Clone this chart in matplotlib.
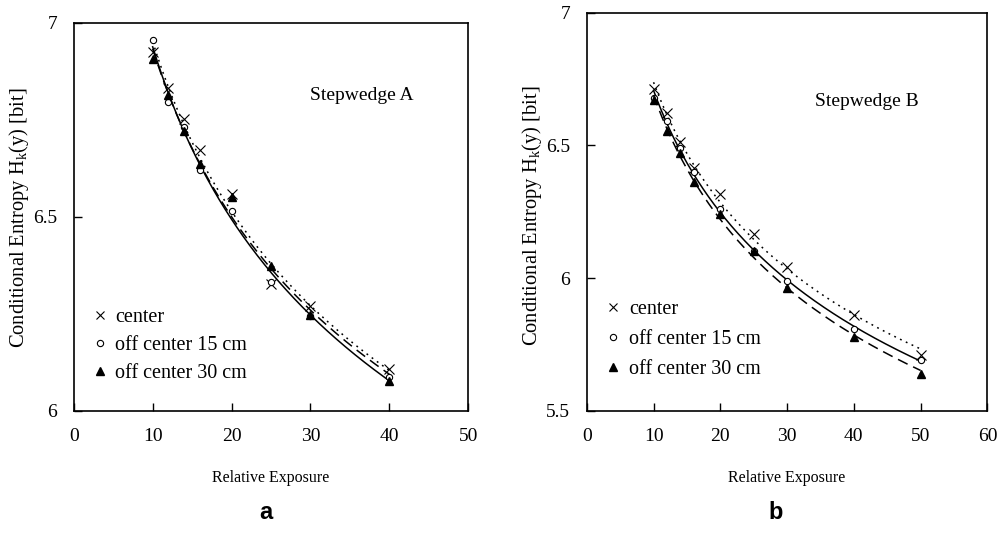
import numpy as np
import matplotlib
matplotlib.use('Agg')
import matplotlib.pyplot as plt
from matplotlib.lines import Line2D

plt.rcParams['font.family'] = ['Liberation Serif', 'DejaVu Serif']
plt.rcParams['mathtext.fontset'] = 'custom'
plt.rcParams['mathtext.rm'] = 'Liberation Serif'
plt.rcParams['mathtext.it'] = 'Liberation Serif'

# Stepwedge A
exposure_a = [10, 12, 14, 16, 20, 25, 30, 40]
center_a = [6.923, 6.831, 6.751, 6.672, 6.558, 6.327, 6.269, 6.109]
off15_a = [6.955, 6.795, 6.730, 6.620, 6.515, 6.333, 6.245, 6.088]
off30_a = [6.906, 6.814, 6.720, 6.637, 6.550, 6.374, 6.247, 6.076]

# Stepwedge B
exposure_b = [10, 12, 14, 16, 20, 25, 30, 40, 50]
center_b = [6.711, 6.622, 6.515, 6.414, 6.318, 6.167, 6.043, 5.861, 5.710]
off15_b = [6.680, 6.594, 6.490, 6.400, 6.262, 6.101, 5.991, 5.808, 5.691]
off30_b = [6.670, 6.554, 6.471, 6.362, 6.242, 6.101, 5.962, 5.777, 5.641]

labels = ['center', 'off center 15 cm', 'off center 30 cm']
markers = ['x', 'o', '^']
linestyles = [(0, (1.2, 3)), '-', (0, (7, 4))]


def power_fit(x, y):
    # trend line like the spreadsheet power fit: y = a * x^b
    b, loga = np.polyfit(np.log(x), np.log(y), 1)
    xs = np.linspace(min(x), max(x), 200)
    return xs, np.exp(loga) * xs ** b


def draw_panel(ax, x, series, title, title_pos, ylab_pos):
    for y, m, ls in zip(series, markers, linestyles):
        xs, ys = power_fit(x, y)
        ax.plot(xs, ys, color='black', lw=1.1, linestyle=ls)
        if m == 'x':
            ax.plot(x, y, linestyle='none', marker='x', color='black',
                    ms=6.5, mew=0.8)
        elif m == 'o':
            ax.plot(x, y, linestyle='none', marker='o', mfc='white',
                    mec='black', ms=4.5, mew=0.8)
        else:
            ax.plot(x, y, linestyle='none', marker='^', color='black', ms=5.5)
    ax.text(title_pos[0], title_pos[1], title, transform=ax.transAxes,
            fontsize=14)
    ax.set_xlabel('Relative Exposure', fontsize=11.5, labelpad=18)
    ax.set_ylabel('Conditional Entropy H$_{\\mathrm{k}}$(y) [bit]',
                  fontsize=14.8)
    ax.yaxis.set_label_coords(*ylab_pos)
    ax.tick_params(direction='in', length=6, width=1, labelsize=14, pad=12)
    for s in ax.spines.values():
        s.set_linewidth(1.2)


def legend_handles():
    return [Line2D([], [], linestyle='none', marker='x', color='black', ms=6, mew=0.8),
            Line2D([], [], linestyle='none', marker='o', mfc='white', mec='black', ms=4.5, mew=0.8),
            Line2D([], [], linestyle='none', marker='^', color='black', ms=5.5)]


fig = plt.figure(figsize=(10.01, 5.49), dpi=100)

ax1 = fig.add_axes([0.0737, 0.2514, 0.3941, 0.7076])
draw_panel(ax1, exposure_a, [center_a, off15_a, off30_a], 'Stepwedge A',
           (0.60, 0.80), (-0.109, 0.497))
ax1.set_xlim(0, 50)
ax1.set_ylim(6, 7)
ax1.set_xticks([0, 10, 20, 30, 40, 50])
ax1.set_yticks([6, 6.5, 7])
ax1.set_yticklabels(['6', '6.5', '7'])
ax1.legend(legend_handles(), labels, loc='lower left', bbox_to_anchor=(0.0, 0.035),
           frameon=False, fontsize=14.5, handletextpad=0.15, handlelength=1.2,
           labelspacing=0.45, borderaxespad=0.3)

ax2 = fig.add_axes([0.5862, 0.2514, 0.4002, 0.7254])
draw_panel(ax2, exposure_b, [center_b, off15_b, off30_b], 'Stepwedge B',
           (0.57, 0.767), (-0.108, 0.49))
ax2.set_xlim(0, 60)
ax2.set_ylim(5.5, 7)
ax2.set_xticks([0, 10, 20, 30, 40, 50, 60])
ax2.set_yticks([5.5, 6, 6.5, 7])
ax2.set_yticklabels(['5.5', '6', '6.5', '7'])
ax2.legend(legend_handles(), labels, loc='lower left', bbox_to_anchor=(0.0, 0.044),
           frameon=False, fontsize=14.5, handletextpad=0.2, handlelength=1.2,
           labelspacing=0.55, borderaxespad=0.3)

fig.text(0.266, 0.055, 'a', fontsize=17, fontweight='bold', family='Liberation Sans', ha='center')
fig.text(0.775, 0.055, 'b', fontsize=17, fontweight='bold', family='Liberation Sans', ha='center')

fig.savefig('out.png', dpi=100)
